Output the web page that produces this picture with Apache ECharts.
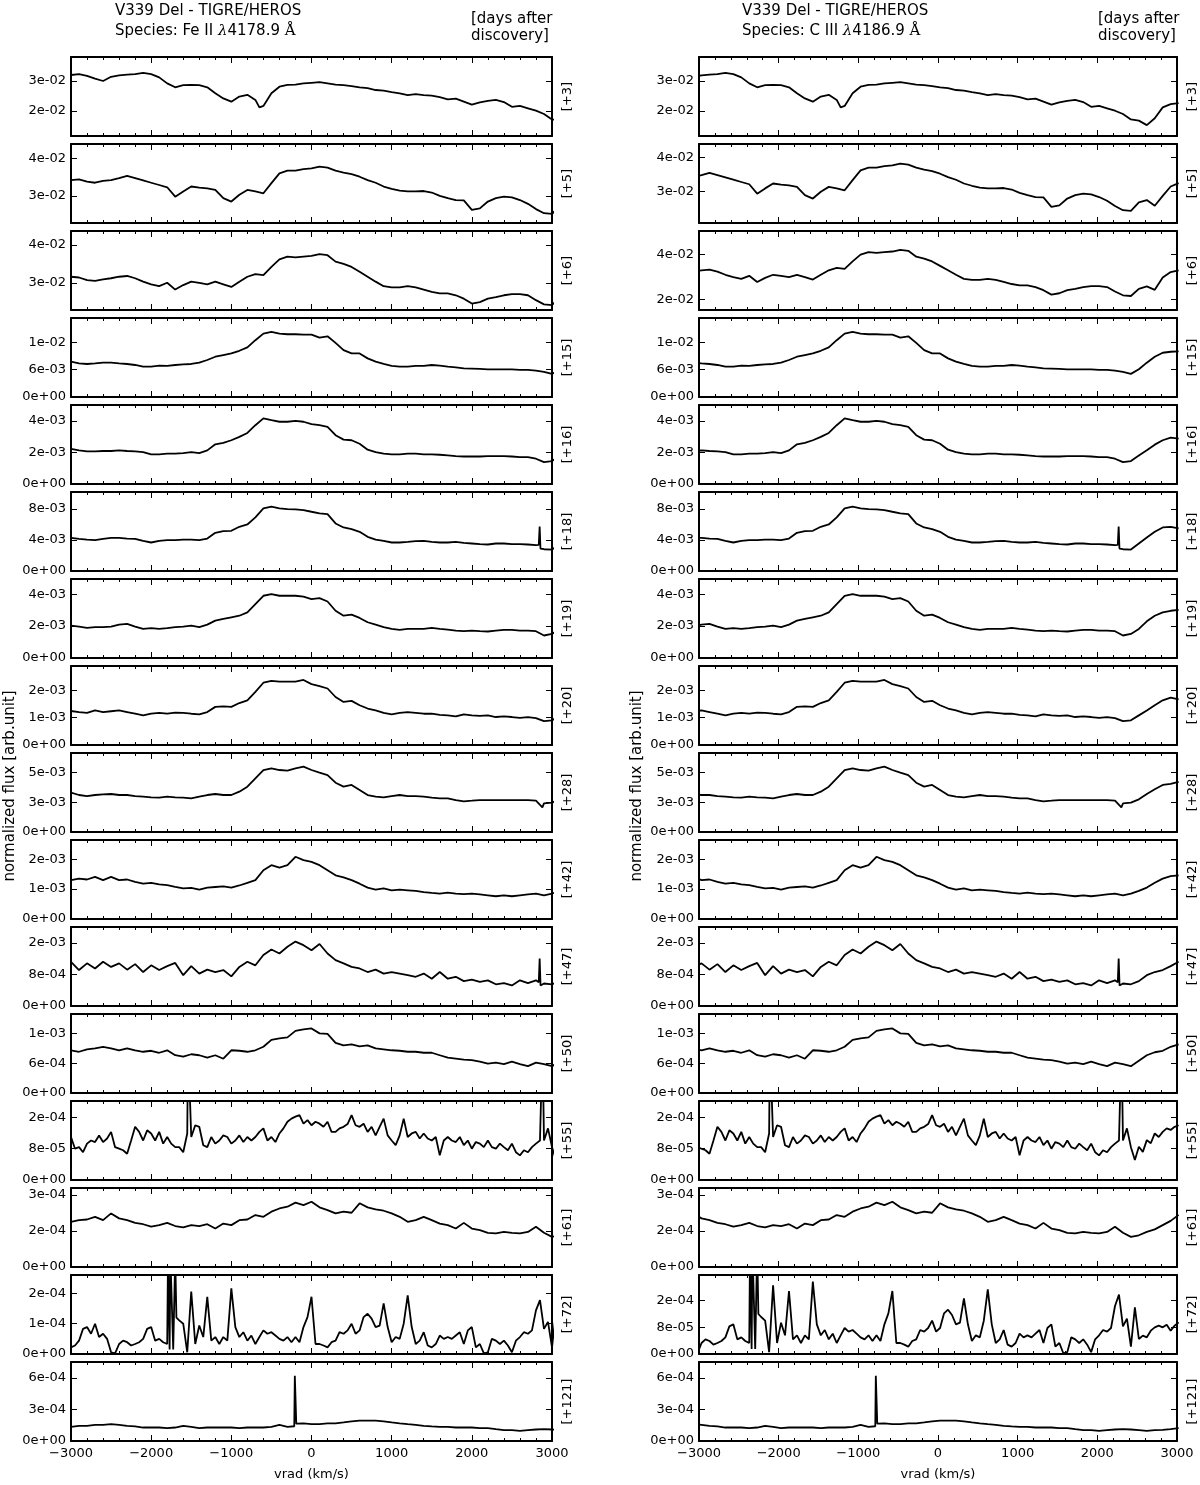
<!DOCTYPE html>
<html>
<head>
<meta charset="utf-8">
<script src="https://cdn.jsdelivr.net/npm/echarts@6/dist/echarts.min.js"></script>
<style>
html, body { margin: 0; background: #fff; }
#main { width: 1200px; height: 1485px; }
</style>
</head>
<body>
<div id="main"></div>
<script>
// rest wavelengths of the two lines, flux is sampled in Fe II velocity (km/s)
const restFe = 4178.9;
const restC = 4186.9;
const cLight = 299792.458;
const velStart = -3000;

const dayLabels = ['[+3]', '[+5]', '[+6]', '[+15]', '[+16]', '[+18]', '[+19]', '[+20]',
  '[+28]', '[+42]', '[+47]', '[+50]', '[+55]', '[+61]', '[+72]', '[+121]'];
const velSteps = [100, 100, 100, 100, 100, 100, 100, 100, 100, 100, 100, 100, 50, 100, 50, 100];

const flux3 = [0.0320,0.0323,0.0317,0.0308,0.0300,0.0314,0.0319,0.0321,0.0323,0.0327,
  0.0323,0.0312,0.0292,0.0279,0.0286,0.0287,0.0286,0.0279,0.0259,0.0242,
  0.0231,0.0248,0.0254,0.0237,0.0217,0.0259,0.0281,0.0287,0.0288,0.0292,
  0.0294,0.0296,0.0292,0.0288,0.0286,0.0283,0.0279,0.0276,0.0270,0.0268,
  0.0263,0.0259,0.0253,0.0256,0.0253,0.0251,0.0246,0.0239,0.0241,0.0231,
  0.0221,0.0229,0.0234,0.0237,0.0230,0.0214,0.0217,0.0209,0.0201,0.0190,
  0.0172,0.0168,0.0153,0.0176,0.0212,0.0223,0.0226];
const flux5 = [0.0342,0.0344,0.0338,0.0335,0.0340,0.0342,0.0347,0.0353,0.0347,0.0341,
  0.0335,0.0329,0.0323,0.0298,0.0312,0.0325,0.0322,0.0320,0.0316,0.0294,
  0.0285,0.0303,0.0316,0.0312,0.0307,0.0334,0.0360,0.0367,0.0367,0.0371,
  0.0373,0.0378,0.0375,0.0367,0.0362,0.0358,0.0351,0.0342,0.0335,0.0325,
  0.0319,0.0314,0.0312,0.0312,0.0313,0.0309,0.0300,0.0294,0.0289,0.0288,
  0.0263,0.0267,0.0285,0.0294,0.0298,0.0296,0.0289,0.0279,0.0265,0.0254,
  0.0252,0.0275,0.0281,0.0266,0.0292,0.0317,0.0326];
const flux6 = [0.0316,0.0314,0.0307,0.0305,0.0309,0.0312,0.0316,0.0318,0.0312,0.0303,
  0.0296,0.0291,0.0300,0.0282,0.0294,0.0303,0.0300,0.0296,0.0303,0.0296,
  0.0289,0.0303,0.0316,0.0323,0.0320,0.0342,0.0362,0.0369,0.0367,0.0369,
  0.0371,0.0376,0.0373,0.0356,0.0350,0.0342,0.0329,0.0316,0.0303,0.0291,
  0.0288,0.0288,0.0291,0.0288,0.0282,0.0276,0.0272,0.0272,0.0267,0.0258,
  0.0245,0.0249,0.0258,0.0262,0.0267,0.0270,0.0270,0.0267,0.0254,0.0243,
  0.0241,0.0262,0.0269,0.0259,0.0295,0.0311,0.0316];
const flux15 = [0.00774,0.00737,0.00723,0.00737,0.00752,0.00752,0.00737,0.00723,0.00701,0.00665,
  0.00665,0.00687,0.00680,0.00701,0.00716,0.00723,0.00752,0.00810,0.00882,0.00918,
  0.00954,0.01012,0.01085,0.01244,0.01388,0.01424,0.01388,0.01374,0.01374,0.01366,
  0.01366,0.01302,0.01330,0.01186,0.01027,0.00954,0.00954,0.00846,0.00774,0.00723,
  0.00680,0.00665,0.00665,0.00680,0.00680,0.00701,0.00687,0.00665,0.00651,0.00629,
  0.00622,0.00615,0.00607,0.00607,0.00607,0.00607,0.00593,0.00593,0.00578,0.00549,
  0.00506,0.00607,0.00752,0.00882,0.00969,0.00991,0.00998];
const flux16 = [0.00223,0.00213,0.00206,0.00206,0.00209,0.00209,0.00213,0.00209,0.00206,0.00202,
  0.00187,0.00187,0.00192,0.00192,0.00196,0.00202,0.00196,0.00213,0.00251,0.00260,
  0.00277,0.00298,0.00323,0.00372,0.00415,0.00404,0.00394,0.00394,0.00400,0.00394,
  0.00379,0.00372,0.00362,0.00309,0.00281,0.00277,0.00255,0.00217,0.00202,0.00192,
  0.00187,0.00187,0.00192,0.00192,0.00187,0.00187,0.00185,0.00181,0.00177,0.00174,
  0.00174,0.00174,0.00177,0.00177,0.00177,0.00174,0.00170,0.00170,0.00160,0.00138,
  0.00145,0.00181,0.00213,0.00249,0.00277,0.00294,0.00287];
const flux18 = [0.00428,0.00415,0.00406,0.00398,0.00415,0.00428,0.00428,0.00419,0.00415,0.00389,
  0.00368,0.00389,0.00398,0.00398,0.00406,0.00406,0.00398,0.00419,0.00493,0.00515,
  0.00519,0.00571,0.00601,0.00692,0.00809,0.00830,0.00809,0.00800,0.00796,0.00787,
  0.00765,0.00744,0.00735,0.00614,0.00562,0.00541,0.00506,0.00441,0.00406,0.00389,
  0.00368,0.00368,0.00376,0.00385,0.00389,0.00376,0.00368,0.00368,0.00376,0.00363,
  0.00355,0.00346,0.00342,0.00355,0.00355,0.00346,0.00346,0.00342,0.00333,0.00281,
  0.00277,0.00355,0.00432,0.00506,0.00562,0.00571,0.00549];
const flux19 = [0.00203,0.00197,0.00189,0.00193,0.00193,0.00197,0.00209,0.00214,0.00197,0.00182,
  0.00187,0.00182,0.00187,0.00193,0.00197,0.00203,0.00193,0.00209,0.00234,0.00245,
  0.00255,0.00265,0.00286,0.00338,0.00390,0.00400,0.00390,0.00390,0.00390,0.00384,
  0.00369,0.00375,0.00354,0.00296,0.00265,0.00272,0.00251,0.00224,0.00209,0.00193,
  0.00182,0.00176,0.00182,0.00182,0.00182,0.00189,0.00182,0.00178,0.00172,0.00168,
  0.00172,0.00168,0.00166,0.00172,0.00176,0.00176,0.00172,0.00172,0.00168,0.00141,
  0.00151,0.00182,0.00230,0.00265,0.00286,0.00296,0.00301];
const flux20 = [0.00124,0.00120,0.00117,0.00126,0.00120,0.00123,0.00126,0.00120,0.00114,0.00108,
  0.00114,0.00117,0.00114,0.00118,0.00117,0.00114,0.00112,0.00120,0.00139,0.00141,
  0.00139,0.00153,0.00163,0.00194,0.00227,0.00234,0.00231,0.00231,0.00231,0.00237,
  0.00222,0.00215,0.00206,0.00175,0.00157,0.00161,0.00145,0.00133,0.00126,0.00117,
  0.00112,0.00117,0.00120,0.00117,0.00114,0.00114,0.00110,0.00108,0.00104,0.00112,
  0.00108,0.00106,0.00108,0.00102,0.00104,0.00102,0.00099,0.00102,0.00098,0.00087,
  0.00090,0.00108,0.00126,0.00145,0.00163,0.00173,0.00166];
const flux28 = [0.00345,0.00324,0.00315,0.00324,0.00330,0.00333,0.00324,0.00324,0.00315,0.00310,
  0.00304,0.00301,0.00310,0.00304,0.00301,0.00295,0.00310,0.00324,0.00333,0.00324,
  0.00324,0.00353,0.00397,0.00470,0.00543,0.00558,0.00543,0.00537,0.00558,0.00573,
  0.00543,0.00520,0.00499,0.00432,0.00397,0.00412,0.00368,0.00324,0.00310,0.00304,
  0.00315,0.00324,0.00315,0.00315,0.00310,0.00301,0.00295,0.00295,0.00280,0.00269,
  0.00274,0.00280,0.00280,0.00280,0.00280,0.00280,0.00280,0.00280,0.00274,0.00250,
  0.00257,0.00286,0.00333,0.00374,0.00412,0.00421,0.00438];
const flux42 = [0.00130,0.00135,0.00132,0.00141,0.00130,0.00141,0.00130,0.00132,0.00124,0.00118,
  0.00121,0.00116,0.00113,0.00107,0.00102,0.00104,0.00098,0.00105,0.00107,0.00109,
  0.00105,0.00112,0.00121,0.00130,0.00163,0.00180,0.00172,0.00180,0.00208,0.00197,
  0.00191,0.00180,0.00163,0.00146,0.00139,0.00130,0.00118,0.00105,0.00098,0.00102,
  0.00096,0.00098,0.00096,0.00094,0.00090,0.00087,0.00085,0.00088,0.00085,0.00083,
  0.00085,0.00082,0.00079,0.00076,0.00079,0.00076,0.00079,0.00082,0.00085,0.00079,
  0.00085,0.00094,0.00105,0.00121,0.00135,0.00143,0.00146];
const flux47 = [0.00112,0.00091,0.00108,0.00095,0.00112,0.00099,0.00108,0.00092,0.00106,0.00086,
  0.00103,0.00091,0.00101,0.00109,0.00078,0.00101,0.00082,0.00092,0.00086,0.00091,
  0.00075,0.00099,0.00112,0.00103,0.00129,0.00143,0.00133,0.00150,0.00163,0.00154,
  0.00141,0.00157,0.00133,0.00116,0.00108,0.00099,0.00095,0.00086,0.00092,0.00082,
  0.00086,0.00082,0.00078,0.00074,0.00082,0.00069,0.00086,0.00069,0.00074,0.00063,
  0.00067,0.00061,0.00065,0.00055,0.00058,0.00052,0.00065,0.00058,0.00065,0.00057,
  0.00055,0.00063,0.00078,0.00086,0.00091,0.00101,0.00112];
const flux50 = [0.00086,0.00083,0.00088,0.00090,0.00093,0.00090,0.00086,0.00090,0.00086,0.00083,
  0.00085,0.00081,0.00086,0.00076,0.00073,0.00078,0.00076,0.00071,0.00076,0.00069,
  0.00086,0.00085,0.00083,0.00086,0.00093,0.00107,0.00110,0.00112,0.00125,0.00128,
  0.00130,0.00120,0.00119,0.00101,0.00096,0.00098,0.00094,0.00096,0.00090,0.00088,
  0.00086,0.00085,0.00083,0.00083,0.00081,0.00081,0.00076,0.00071,0.00069,0.00067,
  0.00066,0.00063,0.00059,0.00061,0.00058,0.00063,0.00058,0.00054,0.00061,0.00058,
  0.00054,0.00065,0.00076,0.00082,0.00085,0.00093,0.00098];
const flux55 = [1.10e-4,8.0e-5,8.4e-5,7.1e-5,9.3e-5,1.01e-4,9.7e-5,1.14e-4,9.7e-5,1.06e-4,
  1.23e-4,8.4e-5,8.0e-5,7.6e-5,6.7e-5,1.01e-4,1.36e-4,1.23e-4,1.01e-4,1.27e-4,
  1.19e-4,1.01e-4,1.23e-4,9.3e-5,1.10e-4,9.3e-5,8.4e-5,8.4e-5,7.1e-5,1.19e-4,
  1.10e-4,1.40e-4,1.36e-4,8.9e-5,8.4e-5,1.10e-4,9.3e-5,1.01e-4,1.14e-4,1.10e-4,
  9.3e-5,1.01e-4,1.14e-4,9.7e-5,1.10e-4,1.01e-4,1.10e-4,1.23e-4,1.32e-4,1.01e-4,
  1.10e-4,9.7e-5,1.19e-4,1.32e-4,1.49e-4,1.57e-4,1.62e-4,1.66e-4,1.44e-4,1.53e-4,
  1.40e-4,1.49e-4,1.44e-4,1.36e-4,1.49e-4,1.23e-4,1.23e-4,1.32e-4,1.36e-4,1.43e-4,
  1.66e-4,1.40e-4,1.36e-4,1.44e-4,1.23e-4,1.36e-4,1.14e-4,1.36e-4,1.57e-4,1.14e-4,
  1.01e-4,8.9e-5,1.14e-4,1.57e-4,1.10e-4,1.19e-4,1.23e-4,1.06e-4,1.19e-4,1.06e-4,
  1.01e-4,1.10e-4,6.3e-5,1.01e-4,1.10e-4,1.01e-4,9.7e-5,1.10e-4,8.9e-5,1.01e-4,
  8.0e-5,9.7e-5,9.3e-5,8.4e-5,1.01e-4,8.4e-5,8.0e-5,9.3e-5,8.4e-5,7.6e-5,
  9.3e-5,7.1e-5,6.3e-5,7.6e-5,7.1e-5,8.4e-5,9.3e-5,1.01e-4,1.01e-4,1.32e-4,
  8.4e-5,5.1e-5,8.5e-5,7.2e-5,1.02e-4,9.4e-5,1.19e-4,1.10e-4,1.23e-4,1.32e-4,
  1.28e-4,1.36e-4,1.40e-4];
const flux61 = [2.01e-4,2.08e-4,2.11e-4,2.23e-4,2.08e-4,2.38e-4,2.16e-4,2.08e-4,1.96e-4,1.90e-4,
  1.79e-4,1.86e-4,1.96e-4,1.82e-4,1.76e-4,1.86e-4,1.82e-4,1.90e-4,1.71e-4,1.93e-4,
  1.86e-4,2.08e-4,2.11e-4,2.31e-4,2.23e-4,2.46e-4,2.60e-4,2.68e-4,2.86e-4,2.75e-4,
  2.90e-4,2.65e-4,2.53e-4,2.38e-4,2.46e-4,2.41e-4,2.83e-4,2.65e-4,2.56e-4,2.50e-4,
  2.38e-4,2.23e-4,2.01e-4,2.08e-4,2.23e-4,2.08e-4,1.93e-4,1.86e-4,1.71e-4,1.96e-4,
  1.71e-4,1.64e-4,1.52e-4,1.49e-4,1.56e-4,1.52e-4,1.49e-4,1.56e-4,1.79e-4,1.52e-4,
  1.34e-4,1.41e-4,1.56e-4,1.67e-4,1.86e-4,2.05e-4,2.31e-4];
const flux72 = [2.2e-5,2.8e-5,4.4e-5,8.3e-5,8.9e-5,6.7e-5,1.0e-4,5.6e-5,6.7e-5,5.0e-5,
  5.6e-6,2.2e-6,3.3e-5,4.4e-5,3.9e-5,2.8e-5,3.3e-5,3.9e-5,5.0e-5,8.3e-5,
  8.9e-5,4.4e-5,5.0e-5,3.9e-5,3.3e-5,3.2e-4,3.2e-4,1.11e-4,1.0e-4,5.6e-6,
  2.06e-4,3.3e-5,9.4e-5,5.6e-5,1.89e-4,4.4e-5,5.6e-5,3.3e-5,5.6e-5,4.4e-5,
  2.17e-4,8.9e-5,5.6e-5,7.2e-5,4.4e-5,6.1e-5,3.3e-5,5.6e-5,7.8e-5,6.7e-5,
  7.2e-5,6.1e-5,5.0e-5,4.4e-5,5.6e-5,3.9e-5,5.6e-5,3.9e-5,8.9e-5,1.22e-4,
  1.89e-4,3.3e-5,3.3e-5,2.8e-5,2.2e-5,3.9e-5,4.4e-5,7.2e-5,6.7e-5,7.8e-5,
  1.0e-4,6.7e-5,7.8e-5,1.22e-4,1.33e-4,1.17e-4,8.9e-5,9.4e-5,1.67e-4,8.9e-5,
  3.9e-5,5.6e-5,5.0e-5,1.0e-4,1.94e-4,8.9e-5,3.3e-5,4.4e-5,7.2e-5,2.8e-5,
  2.2e-5,3.3e-5,6.1e-5,5.0e-5,5.6e-5,5.0e-5,6.1e-5,7.2e-5,3.3e-5,7.8e-5,
  8.9e-5,2.2e-5,3.3e-5,2.2e-6,5.6e-6,5.0e-5,4.4e-5,3.3e-5,4.4e-5,2.8e-5,
  5.6e-6,4.4e-5,5.6e-5,7.2e-5,6.7e-5,7.8e-5,1.44e-4,1.78e-4,8.3e-5,1.06e-4,
  2.2e-5,1.40e-4,4.5e-5,5.5e-5,5.0e-5,7.0e-5,8.0e-5,8.5e-5,8.0e-5,8.8e-5,
  7.0e-5,8.5e-5,9.5e-5];
const flux121 = [1.35e-4,1.44e-4,1.44e-4,1.54e-4,1.54e-4,1.60e-4,1.54e-4,1.44e-4,1.38e-4,1.28e-4,
  1.28e-4,1.28e-4,1.22e-4,1.28e-4,1.44e-4,1.35e-4,1.22e-4,1.28e-4,1.28e-4,1.28e-4,
  1.28e-4,1.22e-4,1.28e-4,1.28e-4,1.28e-4,1.35e-4,1.54e-4,1.35e-4,6.30e-4,1.67e-4,
  1.60e-4,1.60e-4,1.67e-4,1.67e-4,1.76e-4,1.86e-4,1.93e-4,1.93e-4,1.93e-4,1.86e-4,
  1.76e-4,1.67e-4,1.60e-4,1.54e-4,1.44e-4,1.38e-4,1.35e-4,1.35e-4,1.28e-4,1.28e-4,
  1.28e-4,1.22e-4,1.22e-4,1.12e-4,1.03e-4,1.03e-4,0.96e-4,1.03e-4,1.09e-4,1.12e-4,
  1.09e-4,1.03e-4,0.96e-4,1.03e-4,1.06e-4,1.12e-4,1.22e-4];

// narrow features between grid points: [velocity Fe II, flux]
const extra3 = [[-650, 0.0212]];
const extra18 = [[2835, 0.00338], [2846, 0.00575], [2856, 0.00290]];
const extra28 = [[2880, 0.00215]];
const extra47 = [[2835, 0.00060], [2846, 0.00120], [2857, 0.00052]];
const extra55 = [[-1540, 3.5e-4], [-1528, 3.5e-4], [2870, 2.6e-4], [2880, 3.5e-4], [2890, 2.4e-4]];
const extra72 = [[-1790, 3.2e-4], [-1770, 1.5e-5], [-1760, 3.2e-4], [-1725, 1.5e-5], [-1685, 1.2e-4]];
const extra121 = [[-215, 1.40e-4], [-208, 6.2e-4], [-190, 1.65e-4]];

const fluxSets = [flux3, flux5, flux6, flux15, flux16, flux18, flux19, flux20,
  flux28, flux42, flux47, flux50, flux55, flux61, flux72, flux121];
const extraSets = [extra3, [], [], [], [], extra18, [], [], extra28, [], extra47, [], extra55, [], extra72, extra121];

// y ranges and tick values, Fe II column then C III column
const yMinFe = [0.01167, 0.0228, 0.0228, 0, 0, 0, 0, 0, 0, 0, 0, 0, 0, 0, 0, 0];
const yMaxFe = [0.038, 0.0438, 0.0437, 0.0173, 0.0050, 0.0102, 0.00495, 0.00288,
  0.00692, 0.00264, 0.0020, 0.00159, 0.000202, 0.000351, 0.000261, 0.00075];
const yTicksFe = [[0.02, 0.03], [0.03, 0.04], [0.03, 0.04], [0, 0.006, 0.012], [0, 0.002, 0.004],
  [0, 0.004, 0.008], [0, 0.002, 0.004], [0, 0.001, 0.002], [0, 0.0026, 0.0052], [0, 0.001, 0.002],
  [0, 0.0008, 0.0016], [0, 0.0006, 0.0012], [0, 0.00008, 0.00016], [0, 0.00016, 0.00032],
  [0, 0.0001, 0.0002], [0, 0.0003, 0.0006]];
const yMinC = [0.01167, 0.0220, 0.0200, 0, 0, 0, 0, 0, 0, 0, 0, 0, 0, 0, 0, 0];
const yMaxC = [0.038, 0.0430, 0.0431, 0.0173, 0.0050, 0.0102, 0.00495, 0.00288,
  0.00692, 0.00264, 0.0020, 0.00159, 0.000202, 0.000351, 0.000237, 0.00075];
const yTicksC = [[0.02, 0.03], [0.0304, 0.0395], [0.0231, 0.0363], [0, 0.006, 0.012], [0, 0.002, 0.004],
  [0, 0.004, 0.008], [0, 0.002, 0.004], [0, 0.001, 0.002], [0, 0.0026, 0.0052], [0, 0.001, 0.002],
  [0, 0.0008, 0.0016], [0, 0.0006, 0.0012], [0, 0.00008, 0.00016], [0, 0.00016, 0.00032],
  [0, 0.00008, 0.00016], [0, 0.0003, 0.0006]];

const columns = [
  { left: 71, species: 'Fe II', rest: restFe, yMin: yMinFe, yMax: yMaxFe, yTicks: yTicksFe },
  { left: 699, species: 'C III', rest: restC, yMin: yMinC, yMax: yMaxC, yTicks: yTicksC }
];

function sciLabel(v) {
  if (v === 0) return '0e+00';
  const m = v.toExponential(0).match(/^(-?\d)e([+-])(\d+)$/);
  return m[1] + 'e' + m[2] + m[3].padStart(2, '0');
}

function spectrum(idx, rest) {
  const pts = [];
  fluxSets[idx].forEach(function (f, i) {
    pts.push([velStart + i * velSteps[idx], f]);
  });
  extraSets[idx].forEach(function (p) { pts.push([p[0], p[1]]); });
  pts.sort(function (a, b) { return a[0] - b[0]; });
  return pts.map(function (p) {
    const lam = restFe * (1 + p[0] / cLight);
    return [cLight * (lam - rest) / rest, p[1]];
  });
}

const font = 'DejaVu Sans';
const grids = [], xAxes = [], yAxes = [], series = [];
const frame = { color: '#000', width: 2 };

columns.forEach(function (col) {
  for (let i = 0; i < 16; i++) {
    const g = grids.length;
    const last = i === 15;
    grids.push({ left: col.left, top: 57 + 87 * i, width: 481, height: 79 });
    const xBase = {
      gridIndex: g, type: 'value', min: -3000, max: 3000, interval: 1000,
      axisLine: { onZero: false, lineStyle: frame },
      axisTick: { inside: true, length: 6, lineStyle: { color: '#000' } },
      minorTick: { show: true, splitNumber: 5, length: 3, lineStyle: { color: '#000' } },
      splitLine: { show: false }
    };
    xAxes.push(Object.assign({}, xBase, {
      position: 'bottom',
      axisLabel: {
        show: last, color: '#000', fontSize: 13, fontFamily: font, margin: 6,
        showMinLabel: true, showMaxLabel: true,
        formatter: function (v) { return String(v).replace('-', '\u2212'); }
      },
      name: last ? 'vrad (km/s)' : '', nameLocation: 'middle', nameGap: 27,
      nameTextStyle: { color: '#000', fontSize: 13, fontFamily: font }
    }));
    xAxes.push(Object.assign({}, xBase, { position: 'top', axisLabel: { show: false } }));
    const ticks = col.yTicks[i];
    const yBase = {
      gridIndex: g, type: 'value', min: col.yMin[i], max: col.yMax[i],
      axisLine: { onZero: false, lineStyle: frame },
      axisTick: { inside: true, length: 6, customValues: ticks, lineStyle: { color: '#000' } },
      splitLine: { show: false }
    };
    yAxes.push(Object.assign({}, yBase, {
      position: 'left',
      axisLabel: { customValues: ticks, formatter: sciLabel, color: '#000', fontSize: 13, fontFamily: font, margin: 5 }
    }));
    yAxes.push(Object.assign({}, yBase, {
      position: 'right',
      axisLabel: { show: false },
      name: dayLabels[i], nameLocation: 'middle', nameRotate: 90, nameGap: 9,
      nameTextStyle: { color: '#000', fontSize: 13, fontFamily: font }
    }));
    series.push({
      type: 'line', xAxisIndex: 2 * g, yAxisIndex: 2 * g,
      data: spectrum(i, col.rest), showSymbol: false, symbol: 'none', clip: true, silent: true,
      lineStyle: { color: '#000', width: 1.8 }
    });
  }
});

function txt(x, y, text, extra) {
  return {
    type: 'text', x: x, y: y, silent: true,
    style: Object.assign({ text: text, fill: '#000', fontSize: 15, fontFamily: font, verticalAlign: 'middle' }, extra || {})
  };
}
const richLambda = {
  l: { fontStyle: 'italic', fontFamily: 'DejaVu Serif', fontSize: 15 },
  a: { fontFamily: 'DejaVu Serif', fontSize: 15 }
};

const graphics = [
  txt(115, 11, 'V339 Del - TIGRE/HEROS'),
  txt(115, 31, 'Species: Fe II {l|\u03bb}4178.9 {a|\u00c5}', { rich: richLambda }),
  txt(471, 19, '[days after'),
  txt(471, 36, 'discovery]'),
  txt(742, 11, 'V339 Del - TIGRE/HEROS'),
  txt(742, 31, 'Species: C III {l|\u03bb}4186.9 {a|\u00c5}', { rich: richLambda }),
  txt(1098, 19, '[days after'),
  txt(1098, 36, 'discovery]'),
  Object.assign(txt(10, 786, 'normalized flux [arb.unit]', { align: 'center' }), { rotation: Math.PI / 2 }),
  Object.assign(txt(637, 786, 'normalized flux [arb.unit]', { align: 'center' }), { rotation: Math.PI / 2 })
];

const chart = echarts.init(document.getElementById('main'), null, { renderer: 'canvas' });
chart.setOption({
  animation: false,
  backgroundColor: '#fff',
  textStyle: { fontFamily: font },
  grid: grids,
  xAxis: xAxes,
  yAxis: yAxes,
  series: series,
  graphic: graphics
});
</script>
</body>
</html>
